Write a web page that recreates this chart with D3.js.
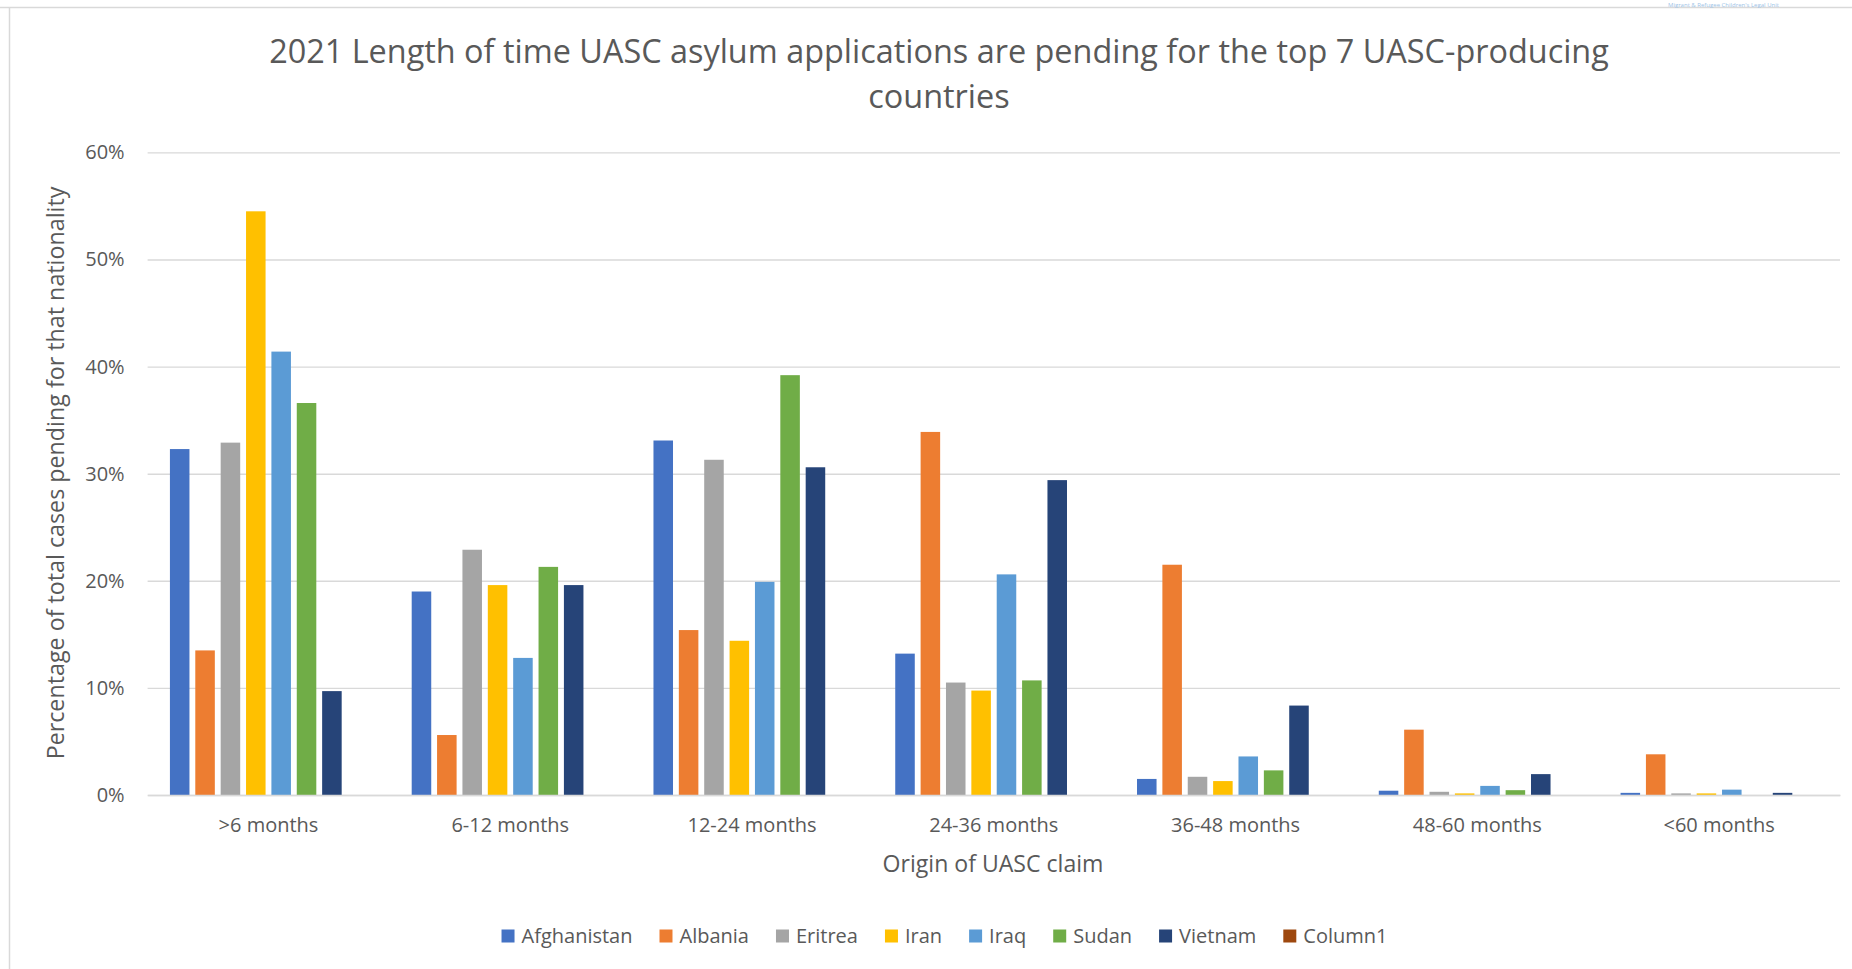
<!DOCTYPE html>
<html>
<head>
<meta charset="utf-8">
<script src="https://cdn.jsdelivr.net/npm/d3@7"></script>
<style>
  body { margin: 0; background: #fff; }
  svg { display: block; font-family: "Open Sans", "Noto Sans", sans-serif; }
</style>
</head>
<body>
<div id="chart"></div>
<script>
// categories and series, values in %
const categories = [">6 months", "6-12 months", "12-24 months", "24-36 months", "36-48 months", "48-60 months", "<60 months"];
const seriesNames = ["Afghanistan", "Albania", "Eritrea", "Iran", "Iraq", "Sudan", "Vietnam", "Column1"];
const afghanistan = [32.3, 19.0, 33.1, 13.2, 1.5, 0.4, 0.2];
const albania     = [13.5, 5.6, 15.4, 33.9, 21.5, 6.1, 3.8];
const eritrea     = [32.9, 22.9, 31.3, 10.5, 1.7, 0.3, 0.15];
const iran        = [54.5, 19.6, 14.4, 9.75, 1.3, 0.15, 0.15];
const iraq        = [41.4, 12.8, 19.9, 20.6, 3.6, 0.85, 0.5];
const sudan       = [36.6, 21.3, 39.2, 10.7, 2.3, 0.45, 0];
const vietnam     = [9.7, 19.6, 30.6, 29.4, 8.35, 1.95, 0.2];
const column1     = [0, 0, 0, 0, 0, 0, 0];
const yTicks = [0, 10, 20, 30, 40, 50, 60];

const colors = ["#4472C4", "#ED7D31", "#A5A5A5", "#FFC000", "#5B9BD5", "#70AD47", "#264478", "#9E480E"];
const allValues = [afghanistan, albania, eritrea, iran, iraq, sudan, vietnam, column1];

const width = 1852, height = 969;
const marginLeft = 147.6, plotRight = 1840;
const plotTop = 152.4, plotBottom = 795;
const textColor = "#595959";
const gridColor = "#d9d9d9";

const svg = d3.select("#chart").append("svg")
  .attr("width", width).attr("height", height);

// chart frame (only top and left edges are in view)
svg.append("line").attr("x1", 0).attr("x2", width).attr("y1", 7.5).attr("y2", 7.5)
  .attr("stroke", "#d9d9d9").attr("stroke-width", 1.5);
svg.append("line").attr("x1", 9.5).attr("x2", 9.5).attr("y1", 7.5).attr("y2", height)
  .attr("stroke", "#d9d9d9").attr("stroke-width", 1.5);
svg.append("text").attr("x", 1668).attr("y", 7)
  .attr("font-size", 6).attr("fill", "#9dc3e6")
  .text("Migrant & Refugee Children's Legal Unit");

// fit a text element to a width by changing its font size
function fitText(sel, target) {
  const node = sel.node();
  const fs = parseFloat(sel.attr("font-size"));
  const w = node.getComputedTextLength();
  sel.attr("font-size", fs * target / w);
}

// title
const t1 = svg.append("text").attr("x", 939).attr("y", 63)
  .attr("text-anchor", "middle").attr("font-size", 28).attr("fill", textColor)
  .text("2021 Length of time UASC asylum applications are pending for the top 7 UASC-producing");
fitText(t1, 1340);
svg.append("text").attr("x", 939).attr("y", 108)
  .attr("text-anchor", "middle").attr("font-size", t1.attr("font-size")).attr("fill", textColor)
  .text("countries");

// scales
const x0 = d3.scaleBand().domain(categories).range([marginLeft, plotRight]).padding(0);
const x1 = d3.scaleBand().domain(seriesNames).range([0, x0.bandwidth()])
  .paddingInner(0.23).paddingOuter(0.88);
const y = d3.scaleLinear().domain([0, 60]).range([plotBottom, plotTop]);

// y axis with gridlines
const yAxis = svg.append("g").attr("class", "yAxis")
  .attr("transform", `translate(${marginLeft},0)`)
  .call(d3.axisLeft(y).tickValues(yTicks).tickSize(-(plotRight - marginLeft))
    .tickPadding(23).tickFormat(d => d + "%"));
yAxis.select(".domain").remove();
yAxis.selectAll(".tick line").attr("stroke", gridColor).attr("stroke-width", 1.4);
yAxis.selectAll(".tick text").attr("fill", textColor).attr("font-size", 20)
  .attr("font-family", "Open Sans");

// bars
const groups = svg.append("g").selectAll("g")
  .data(categories)
  .join("g")
  .attr("transform", d => `translate(${x0(d)},0)`);

groups.selectAll("rect")
  .data((c, i) => seriesNames.map((s, j) => ({ s, v: allValues[j][i], color: colors[j] })))
  .join("rect")
  .attr("x", d => x1(d.s))
  .attr("width", x1.bandwidth())
  .attr("y", d => y(d.v))
  .attr("height", d => y(0) - y(d.v))
  .attr("fill", d => d.color);

// x axis
const xAxis = svg.append("g").attr("class", "xAxis")
  .attr("transform", `translate(0,${plotBottom})`)
  .call(d3.axisBottom(x0).tickSize(0).tickPadding(23));
xAxis.select(".domain").attr("stroke", gridColor).attr("stroke-width", 1.4);
xAxis.selectAll(".tick text").attr("fill", textColor).attr("font-size", 20)
  .attr("font-family", "Open Sans");

// axis titles
const xt = svg.append("text").attr("x", 993).attr("y", 872)
  .attr("text-anchor", "middle").attr("font-size", 20).attr("fill", textColor)
  .text("Origin of UASC claim");
fitText(xt, 221);

const yt = svg.append("text")
  .attr("transform", "translate(64,473) rotate(-90)")
  .attr("text-anchor", "middle").attr("font-size", 20).attr("fill", textColor)
  .text("Percentage of total cases pending for that nationality");
fitText(yt, 573);

// legend
const legend = svg.append("g").attr("transform", "translate(0,936)");
const items = legend.selectAll("g").data(seriesNames).join("g");
items.append("rect").attr("width", 13).attr("height", 13).attr("y", -6.5)
  .attr("fill", (d, i) => colors[i]);
items.append("text").attr("x", 20).attr("y", 0).attr("dy", "0.35em")
  .attr("font-size", 20).attr("fill", textColor)
  .text(d => d);
const gap = 27;
let cx = 0;
const offsets = [];
items.each(function () {
  const tw = d3.select(this).select("text").node().getComputedTextLength();
  offsets.push(cx);
  cx += 20 + tw + gap;
});
const total = cx - gap;
const startX = 944.5 - total / 2;
items.attr("transform", (d, i) => `translate(${startX + offsets[i]},0)`);
</script>
</body>
</html>
